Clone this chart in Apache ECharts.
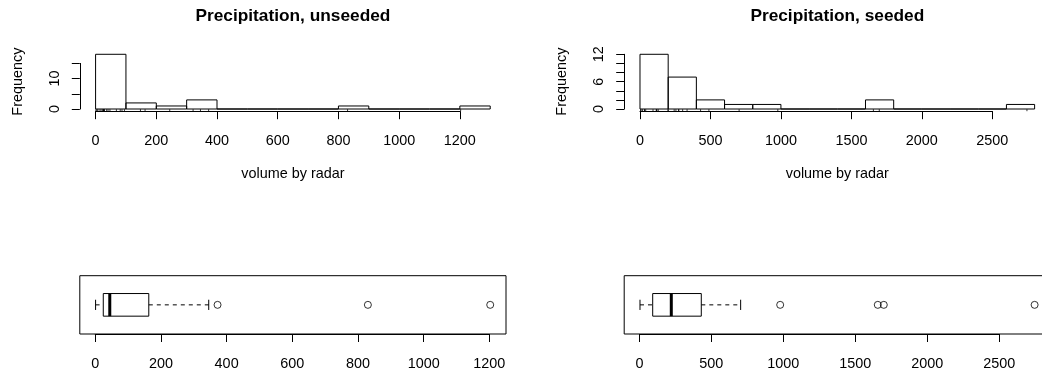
<!DOCTYPE html>
<html>
<head>
<meta charset="utf-8">
<script src="https://cdn.jsdelivr.net/npm/echarts@6/dist/echarts.min.js"></script>
<style>
html, body { margin: 0; padding: 0; background: #fff; }
#chart { width: 1042px; height: 375px; }
</style>
</head>
<body>
<div id="chart"></div>
<script>
// rainfall, volume by radar
var unseeded = [1202.6, 830.1, 372.4, 345.5, 321.2, 244.3, 163.0, 147.8, 95.0, 87.0, 81.2, 68.5, 47.3,
  41.1, 36.6, 29.0, 28.6, 26.3, 26.1, 24.4, 21.7, 17.3, 11.5, 4.9, 4.9, 1.0];
var seeded = [2745.6, 1697.8, 1656.0, 978.0, 703.4, 489.1, 430.0, 334.1, 302.8, 274.7, 274.7, 255.0, 242.5,
  200.7, 198.6, 129.6, 119.0, 118.3, 115.3, 92.4, 40.6, 32.7, 31.4, 17.5, 7.7, 4.1];

// histogram bins
var unseededBreaks = [0, 100, 200, 300, 400, 500, 600, 700, 800, 900, 1000, 1100, 1200, 1300];
var unseededCounts = [18, 2, 1, 3, 0, 0, 0, 0, 1, 0, 0, 0, 1];
var seededBreaks = [0, 200, 400, 600, 800, 1000, 1200, 1400, 1600, 1800, 2000, 2200, 2400, 2600, 2800];
var seededCounts = [12, 7, 2, 1, 1, 0, 0, 0, 2, 0, 0, 0, 0, 1];

// boxplots: lower whisker, Q1, median, Q3, upper whisker
var unseededBox = [1.0, 24.4, 44.2, 163.0, 345.5];
var unseededOutliers = [372.4, 830.1, 1202.6];
var seededBox = [4.1, 92.4, 221.6, 430.0, 703.4];
var seededOutliers = [978.0, 1656.0, 1697.8, 2745.6];

// ticks
var unseededXTicks = [0, 200, 400, 600, 800, 1000, 1200];
var seededXTicks = [0, 500, 1000, 1500, 2000, 2500];
var unseededYTicks = [0, 5, 10, 15];
var unseededYLabels = [0, 10];
var seededYTicks = [0, 2, 4, 6, 8, 10, 12];
var seededYLabels = [0, 6, 12];

var titles = ['Precipitation, unseeded', 'Precipitation, seeded'];

var FONT = '"Liberation Sans", Arial, Helvetica, sans-serif';
var histTop = 52.1, histH = 59.1;
var boxTop = 275.7, boxH = 58.3;

var grids = [], xAxes = [], yAxes = [], series = [], graphics = [];

function hidden(extra) {
  var a = {
    axisLine: { show: false }, axisTick: { show: false },
    axisLabel: { show: false }, splitLine: { show: false }
  };
  for (var k in extra) a[k] = extra[k];
  return a;
}

function shownAxis(extra, labelFmt) {
  var a = {
    type: 'value',
    axisLine: { show: true, lineStyle: { color: '#000', width: 1 } },
    axisTick: { show: true, inside: false, length: 8, lineStyle: { color: '#000', width: 1 } },
    axisLabel: {
      show: true, color: '#000', fontSize: 14.4, fontFamily: FONT, margin: 23,
      formatter: labelFmt || function (v) { return String(v); }
    },
    splitLine: { show: false }
  };
  for (var k in extra) a[k] = extra[k];
  return a;
}

function addGrid(o) {
  o.outerBoundsMode = 'none';
  o.containLabel = false;
  grids.push(o);
  return grids.length - 1;
}

function addPanel(left, width, title, values, breaks, counts, yTicks, yLabels, xTicks, box, outliers) {
  // ---- histogram ----
  var b0 = breaks[0], b1 = breaks[breaks.length - 1];
  var hx0 = b0 - 0.04 * (b1 - b0), hx1 = b1 + 0.04 * (b1 - b0);
  var ymax = Math.max.apply(null, counts);
  var hy0 = -0.04 * ymax, hy1 = 1.04 * ymax;
  function hpx(v) { return left + (v - hx0) / (hx1 - hx0) * width; }
  function hpy(v) { return histTop + histH - (v - hy0) / (hy1 - hy0) * histH; }

  var g = addGrid({ left: left, top: histTop, width: width, height: histH });
  xAxes.push(hidden({ gridIndex: g, type: 'value', min: hx0, max: hx1 }));
  yAxes.push(hidden({ gridIndex: g, type: 'value', min: hy0, max: hy1 }));

  var bins = counts.map(function (c, i) { return [breaks[i], breaks[i + 1], c]; });
  series.push({
    type: 'custom', xAxisIndex: g, yAxisIndex: g, data: bins, encode: { x: [0, 1], y: 2 },
    clip: false,
    renderItem: function (params, api) {
      var p0 = api.coord([api.value(0), 0]);
      var p1 = api.coord([api.value(1), api.value(2)]);
      return {
        type: 'rect',
        shape: { x: p0[0], y: p1[1], width: p1[0] - p0[0], height: p0[1] - p1[1] },
        style: { fill: 'none', stroke: '#000', lineWidth: 1 }
      };
    }
  });
  // rug
  series.push({
    type: 'custom', xAxisIndex: g, yAxisIndex: g, data: values.map(function (v) { return [v]; }),
    encode: { x: 0 },
    renderItem: function (params, api) {
      var p = api.coord([api.value(0), hy0]);
      return {
        type: 'line', shape: { x1: p[0], y1: p[1], x2: p[0], y2: p[1] - 2 },
        style: { stroke: '#000', lineWidth: 0.8 }
      };
    }
  });

  // x axis (first to last tick)
  var xt0 = xTicks[0], xt1 = xTicks[xTicks.length - 1];
  g = addGrid({ left: hpx(xt0), top: histTop, width: hpx(xt1) - hpx(xt0), height: histH });
  xAxes.push(shownAxis({ gridIndex: g, min: xt0, max: xt1, interval: xTicks[1] - xTicks[0] }));
  yAxes.push(hidden({ gridIndex: g, type: 'value', min: 0, max: 1 }));

  // y axis (first to last tick)
  var yt0 = yTicks[0], yt1 = yTicks[yTicks.length - 1];
  g = addGrid({ left: left, top: hpy(yt1), width: 10, height: hpy(yt0) - hpy(yt1) });
  xAxes.push(hidden({ gridIndex: g, type: 'value', min: 0, max: 1 }));
  yAxes.push(shownAxis({ gridIndex: g, min: yt0, max: yt1, interval: yTicks[1] - yTicks[0] },
    function (v) { return yLabels.indexOf(v) >= 0 ? String(v) : ''; }));
  yAxes[yAxes.length - 1].axisLabel.rotate = 90;
  yAxes[yAxes.length - 1].axisLabel.margin = 18;

  // ---- boxplot ----
  var all = box.concat(outliers);
  var dmin = Math.min.apply(null, all), dmax = Math.max.apply(null, all);
  var bx0 = dmin - 0.04 * (dmax - dmin), bx1 = dmax + 0.04 * (dmax - dmin);
  function bpx(v) { return left + (v - bx0) / (bx1 - bx0) * width; }

  g = addGrid({ left: left, top: boxTop, width: width, height: boxH, show: true, borderColor: '#000', borderWidth: 1, backgroundColor: 'transparent' });
  xAxes.push(hidden({ gridIndex: g, type: 'value', min: bx0, max: bx1 }));
  yAxes.push(hidden({ gridIndex: g, type: 'value', min: 0.5, max: 1.5 }));
  series.push({
    type: 'custom', xAxisIndex: g, yAxisIndex: g, data: [box], encode: { x: [0, 1, 2, 3, 4] },
    renderItem: function (params, api) {
      var lo = api.value(0), q1 = api.value(1), med = api.value(2), q3 = api.value(3), hi = api.value(4);
      var c = 1, bh = 0.194, ch = 0.088;
      function pt(x, y) { return api.coord([x, y]); }
      var a = pt(q1, c + bh), b = pt(q3, c - bh);
      function seg(x1, y1, x2, y2, style) {
        var p = pt(x1, y1), q = pt(x2, y2);
        return { type: 'line', shape: { x1: p[0], y1: p[1], x2: q[0], y2: q[1] }, style: style };
      }
      var solid = { stroke: '#000', lineWidth: 1 };
      var dashed = { stroke: '#000', lineWidth: 1, lineDash: [4, 4] };
      return {
        type: 'group', children: [
          seg(lo, c, q1, c, dashed),
          seg(q3, c, hi, c, dashed),
          seg(lo, c - ch, lo, c + ch, solid),
          seg(hi, c - ch, hi, c + ch, solid),
          { type: 'rect', shape: { x: a[0], y: a[1], width: b[0] - a[0], height: b[1] - a[1] }, style: { fill: 'none', stroke: '#000', lineWidth: 1 } },
          seg(med, c - bh, med, c + bh, { stroke: '#000', lineWidth: 3 })
        ]
      };
    }
  });
  series.push({
    type: 'scatter', xAxisIndex: g, yAxisIndex: g, symbol: 'circle', symbolSize: 7,
    data: outliers.map(function (v) { return [v, 1]; }),
    itemStyle: { color: 'rgba(0,0,0,0)', borderColor: '#000', borderWidth: 1 }
  });

  g = addGrid({ left: bpx(xt0), top: boxTop, width: bpx(xt1) - bpx(xt0), height: boxH });
  xAxes.push(shownAxis({ gridIndex: g, min: xt0, max: xt1, interval: xTicks[1] - xTicks[0] }));
  yAxes.push(hidden({ gridIndex: g, type: 'value', min: 0, max: 1 }));

  // ---- texts ----
  var cx = left + width / 2;
  graphics.push({
    type: 'text', x: cx, y: 16,
    style: { text: title, font: 'bold 17.3px ' + FONT, fill: '#000', align: 'center', verticalAlign: 'middle', textAlign: 'center', textVerticalAlign: 'middle' }
  });
  graphics.push({
    type: 'text', x: cx, y: 174,
    style: { text: 'volume by radar', font: '14.4px ' + FONT, fill: '#000', align: 'center', verticalAlign: 'middle', textAlign: 'center', textVerticalAlign: 'middle' }
  });
  graphics.push({
    type: 'text', x: left - 61.7, y: histTop + histH / 2, rotation: Math.PI / 2,
    style: { text: 'Frequency', font: '14.4px ' + FONT, fill: '#000', align: 'center', verticalAlign: 'middle', textAlign: 'center', textVerticalAlign: 'middle' }
  });
}

addPanel(79.8, 426.2, titles[0], unseeded, unseededBreaks, unseededCounts, unseededYTicks, unseededYLabels,
  unseededXTicks, unseededBox, unseededOutliers);
addPanel(624.2, 426.2, titles[1], seeded, seededBreaks, seededCounts, seededYTicks, seededYLabels,
  seededXTicks, seededBox, seededOutliers);

var chart = echarts.init(document.getElementById('chart'), null, { renderer: 'canvas' });
chart.setOption({
  animation: false,
  backgroundColor: '#fff',
  grid: grids,
  xAxis: xAxes,
  yAxis: yAxes,
  series: series,
  graphic: graphics
});
</script>
</body>
</html>
